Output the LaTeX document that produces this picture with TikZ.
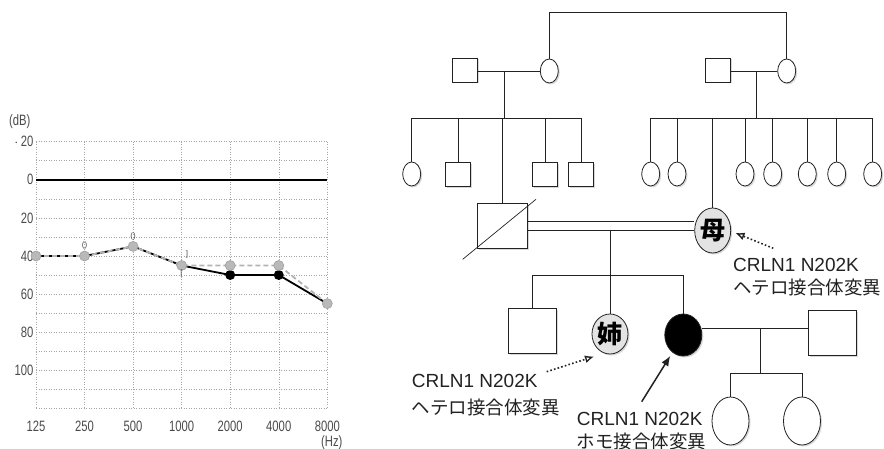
\documentclass[tikz,border=0pt]{standalone}
\usepackage{fontspec}
\setmainfont{Liberation Sans}
\newfontfamily\jp{Noto Sans CJK JP}
\newfontfamily\narrow[FakeStretch=0.75]{Liberation Sans}
\usetikzlibrary{shapes.geometric,arrows.meta,shadows}
\definecolor{axtext}{HTML}{4A4A4A}
\definecolor{ped}{HTML}{222222}
\begin{document}
\begin{tikzpicture}[x=1pt,y=-1pt,
  grid/.style={draw=gray!70, dotted, line width=0.5pt},
  ticklbl/.style={font=\narrow\fontsize{15}{15}\selectfont, text=axtext, inner sep=0pt},
  gmark/.style={circle, fill=gray!55, draw=gray!75, line width=0.6pt, minimum size=10pt, inner sep=0pt},
  bmark/.style={circle, fill=black, minimum size=10pt, inner sep=0pt},
  tinylbl/.style={font=\fontsize{8}{8}\selectfont, text=axtext, inner sep=0pt},
  shp/.style={draw=ped, line width=0.8pt, fill=white, inner sep=0pt,
    drop shadow={fill=gray!60, opacity=0.5, shadow xshift=1.5pt, shadow yshift=-1.5pt}},
  sqs/.style={shp, rectangle, minimum width=25pt, minimum height=24pt},
  sqb/.style={shp, rectangle, minimum width=48pt, minimum height=45pt},
  els/.style={shp, ellipse, minimum width=18pt, minimum height=24pt},
  elm/.style={shp, ellipse, minimum width=37pt, minimum height=42pt},
  ell/.style={shp, ellipse, minimum width=37pt, minimum height=48pt},
  link/.style={draw=ped, line width=0.7pt},
  lbl/.style={font=\fontsize{19}{19}\selectfont, text=ped, inner sep=0pt, anchor=west},
  jlbl/.style={font=\jp\fontsize{18.5}{18.5}\selectfont, text=ped, inner sep=0pt, anchor=west},
  kanji/.style={font=\jp\bfseries\fontsize{25}{25}\selectfont},
  dotarrow/.style={ped, line width=1.6pt, dash pattern=on 1.6pt off 2.2pt,
    -{Latex[open, length=9pt, width=8pt, line width=1.4pt, sep=0pt]}}
]
\useasboundingbox (0,0) rectangle (884,449);

% ================= Audiogram =================
\foreach \i in {0,...,6}
  \draw[grid] (36+48.55*\i,141.7) -- (36+48.55*\i,408.3);
\foreach \j in {0,...,14}
  \draw[grid] (36,141.7+19.04*\j) -- (327.3,141.7+19.04*\j);
\draw[line width=1.7pt] (36,179.8) -- (327.3,179.8);

\node[ticklbl, anchor=west] (dB) at (9,122) {(dB)};
\node[ticklbl, anchor=east] (t1) at (33.5,141.7) {$\cdot$\,20};
\node[ticklbl, anchor=east] (t2) at (33.5,179.8) {0};
\node[ticklbl, anchor=east] (t3) at (33.5,217.9) {20};
\node[ticklbl, anchor=east] (t4) at (33.5,256) {40};
\node[ticklbl, anchor=east] (t5) at (33.5,294.1) {60};
\node[ticklbl, anchor=east] (t6) at (33.5,332.2) {80};
\node[ticklbl, anchor=east] (t7) at (33.5,370.2) {100};
\node[ticklbl] (f1) at (36,426) {125};
\node[ticklbl] (f2) at (84.55,426) {250};
\node[ticklbl] (f3) at (133.1,426) {500};
\node[ticklbl] (f4) at (181.65,426) {1000};
\node[ticklbl] (f5) at (230.2,426) {2000};
\node[ticklbl] (f6) at (278.75,426) {4000};
\node[ticklbl] (f7) at (327.3,426) {8000};
\node[ticklbl, anchor=west] (hz) at (321,443) {(Hz)};

% data points
\coordinate (b1) at (36,256);
\coordinate (b2) at (84.55,256);
\coordinate (b3) at (133.1,246.4);
\coordinate (b4) at (181.65,265.5);
\coordinate (b5) at (230.2,275);
\coordinate (b6) at (278.75,275);
\coordinate (b7) at (327.3,303.6);
\coordinate (g5) at (230.2,265.5);
\coordinate (g6) at (278.75,265.5);
\draw[line width=1.8pt, black] (b1) -- (b2) -- (b3) -- (b4) -- (b5) -- (b6) -- (b7);
\draw[line width=1.8pt, gray!60, dash pattern=on 5pt off 3pt] (b1) -- (b2) -- (b3) -- (b4) -- (g5) -- (g6) -- (b7);
\node[bmark] (m5) at (b5) {};
\node[bmark] (m6) at (b6) {};
\foreach \p/\n in {b1/n1,b2/n2,b3/n3,b4/n4,g5/n5,g6/n6,b7/n7}
  \node[gmark] (\n) at (\p) {};
\node[tinylbl] (s2) at (84.55,245) {()};
\node[tinylbl] (s3) at (133.1,236) {()};
\node[tinylbl] (s4a) at (187,254) {]};
\node[tinylbl] (s4b) at (181.5,273) {[};

% ================= Pedigree =================
% generation I
\node[sqs] (gf1) at (465,70) {};
\node[els] (gm1) at (549.3,71) {};
\node[sqs] (gf2) at (717.5,70) {};
\node[els] (gm2) at (786.7,71) {};
\coordinate (topL) at (549.3,12);
\draw[link] (gm1.north) -- (topL) -| (gm2.north);
\draw[link] (gf1.east |- 0,71) -- (gm1.west);
\draw[link] (gf2.east |- 0,71) -- (gm2.west);
\coordinate (dropL) at (504,71);
\coordinate (dropR) at (756,71);
\draw[link] (dropL) -- (504,118);
\draw[link] (dropR) -- (756,118);
\draw[link] (411.7,118) -- (581,118);
\draw[link] (650.7,118) -- (872.7,118);

% generation II siblings
\node[els] (c1) at (411.7,174) {};
\node[sqs] (c2) at (458.3,174.5) {};
\node[sqs] (c4) at (545,174.5) {};
\node[sqs] (c5) at (581,174.5) {};
\foreach \n in {c1,c2,c4,c5} \draw[link] (\n.north) -- (\n.north |- 0,118);
\foreach \x/\n in {650.7/d1,677/d2,745/d4,772.7/d5,807.3/d6,836.7/d7,872.7/d8}{
  \node[els] (\n) at (\x,174) {};
  \draw[link] (\n.north) -- (\n.north |- 0,118);
}

% parents
\node[sqb, minimum width=50pt] (father) at (502.5,225.8) {};
\node[elm, fill=gray!22, minimum width=36pt, minimum height=45pt, kanji] (mother) at (712.7,230.5) {母};
\draw[link] (father.north) -- (father.north |- 0,118);
\draw[link] (mother.north) -- (mother.north |- 0,118);
\coordinate (dA) at (462.7,259.3);
\coordinate (dB2) at (536,199.3);
\draw[link] (dA) -- (dB2);
\draw[link] (father.east |- 0,221.7) -- (mother.west |- 0,221.7);
\draw[link] (father.east |- 0,230) -- (mother.west |- 0,230);
\coordinate (dropM) at (610,230);
\draw[link] (dropM) -- (610,275);
\draw[link] (532.5,275) -- (683.3,275);

% generation III
\node[sqb] (bro) at (532.5,331) {};
\node[elm, fill=gray!22, minimum width=36pt, minimum height=40pt, kanji] (sis) at (610,334) {姉};
\node[elm, fill=black] (pro) at (683.3,335) {};
\node[sqb] (spouse) at (832.5,332.5) {};
\foreach \n in {bro,sis,pro} \draw[link] (\n.north) -- (\n.north |- 0,275);
\draw[link] (pro.east |- 0,328) -- (spouse.west |- 0,328);
\coordinate (dropP) at (760,328);
\draw[link] (dropP) -- (760,373.3);
\draw[link] (730.5,373.3) -- (802,373.3);
\node[ell] (k1) at (730.5,421) {};
\node[ell] (k2) at (802,421) {};
\foreach \n in {k1,k2} \draw[link] (\n.north) -- (\n.north |- 0,373.3);

% labels and arrows
\node[lbl] (lm1) at (733,265) {CRLN1 N202K};
\node[jlbl] (lm2) at (733,287) {ヘテロ接合体変異};
\node[lbl] (ls1) at (411.7,381) {CRLN1 N202K};
\node[jlbl] (ls2) at (411.7,407) {ヘテロ接合体変異};
\node[lbl] (lp1) at (576.7,418.5) {CRLN1 N202K};
\node[jlbl] (lp2) at (576.7,441.5) {ホモ接合体変異};

\coordinate (aM) at (773.3,248.3);
\coordinate (aMh) at (735.5,233);
\draw[dotarrow] (aM) -- (aMh);
\coordinate (aS) at (546.7,371.7);
\coordinate (aSh) at (594,356.5);
\draw[dotarrow] (aS) -- (aSh);
\coordinate (aP) at (641.7,401.7);
\draw[ped, line width=1.5pt, -{Latex[length=10pt, width=8pt]}, shorten >=4pt] (aP) -- (pro);
\end{tikzpicture}
\end{document}
